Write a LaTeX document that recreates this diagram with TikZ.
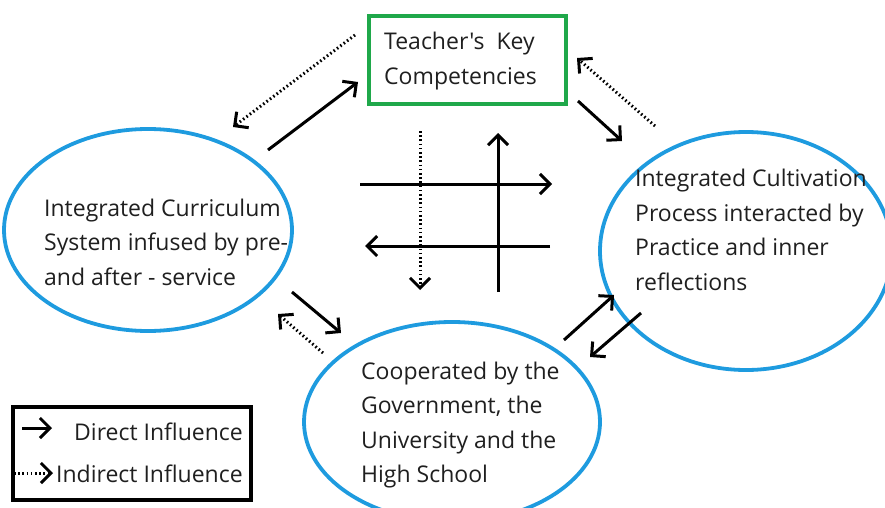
\documentclass[tikz,border=0pt]{standalone}
\usepackage{fontspec}
\setmainfont{Open Sans}[Ligatures=TeXOff]
\usetikzlibrary{arrows.meta,shapes.geometric}
\definecolor{eblue}{HTML}{1E9BDF}
\definecolor{bgreen}{HTML}{1FA84A}
\tikzset{
  x=1pt,y=-1pt,
  oval/.style={draw=eblue,line width=3.8pt,ellipse,inner sep=0pt},
  lbl/.style={anchor=west,align=left,font=\fontsize{23}{34.5}\selectfont,inner sep=0pt,text=black!88},
  tip/.style={-{Straight Barb[length=10pt,width=20pt,line width=3pt]}},
  dir/.style={line width=3pt,tip},
  ind/.style={line width=3pt,dash pattern=on 1.6pt off 2.6pt,tip},
}
\begin{document}
\begin{tikzpicture}
\useasboundingbox (0,0) rectangle (885,508);
\clip (0,0) rectangle (885,508);
% ellipses
\node[oval,minimum width=288,minimum height=202] (L) at (148,230) {};
\node[oval,minimum width=292,minimum height=238] (R) at (746,251) {};
\node[oval,minimum width=296,minimum height=200] (B) at (452,422) {};
\node[draw=bgreen,line width=3.8pt,minimum width=197,minimum height=88,inner sep=0pt] (K) at (467.5,60) {};
% texts
\node[lbl] (Kt) at (384,61) {Teacher's\ \ Key\\Competencies};
\node[lbl] (Lt) at (44,242) {Integrated Curriculum\\System infused by pre-\\and after - service};
\node[lbl] (Rt) at (635,230) {Integrated Cultivation\\Process interacted by\\Practice and inner\\reflections};
\node[lbl] (Bt) at (361,425) {Cooperated by the\\Government, the\\University and the\\High School};
% legend
\node[draw,line width=4pt,minimum width=238,minimum height=93,inner sep=0pt] (G) at (132,453) {};
\node[lbl] (Gd) at (74,432) {Direct Influence};
\node[lbl] (Gi) at (56,474) {Indirect Influence};
% coordinates
\coordinate (a1) at (268,150); \coordinate (a2) at (358,82);
\coordinate (b1) at (355,35); \coordinate (b2) at (233,127);
\coordinate (c1) at (578,101); \coordinate (c2) at (622,141);
\coordinate (d1) at (655,126); \coordinate (d2) at (577,58);
\coordinate (h1) at (360,184); \coordinate (h2) at (552,184);
\coordinate (h3) at (550,246); \coordinate (h4) at (365,246);
\coordinate (v1) at (420,131); \coordinate (v2) at (420,290);
\coordinate (v3) at (498,292); \coordinate (v4) at (498,133);
\coordinate (e1) at (292,292); \coordinate (e2) at (341,333);
\coordinate (f1) at (323,353); \coordinate (f2) at (278,314);
\coordinate (g1) at (564,340); \coordinate (g2) at (614,295);
\coordinate (k1) at (641,313); \coordinate (k2) at (590,357);
\coordinate (l1) at (22,428); \coordinate (l2) at (52,428);
\coordinate (m1) at (14,473); \coordinate (m2) at (53,473);
% arrows
\draw[dir] (a1) -- (a2);
\draw[ind] (b1) -- (b2);
\draw[dir] (c1) -- (c2);
\draw[ind] (d1) -- (d2);
\draw[dir] (h1) -- (h2);
\draw[dir] (h3) -- (h4);
\draw[ind] (v1) -- (v2);
\draw[dir] (v3) -- (v4);
\draw[dir] (e1) -- (e2);
\draw[ind] (f1) -- (f2);
\draw[dir] (g1) -- (g2);
\draw[dir] (k1) -- (k2);
\draw[dir] (l1) -- (l2);
\draw[ind] (m1) -- (m2);
\end{tikzpicture}
\end{document}
